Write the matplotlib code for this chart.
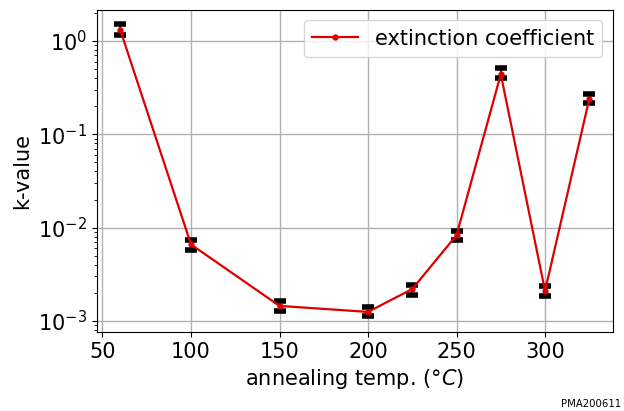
import matplotlib
matplotlib.use("Agg")
import matplotlib.pyplot as plt

# 數據 (讀自圖表)
temps = [60, 100, 150, 200, 225, 250, 275, 300, 325]
k_value = [1.32, 0.0066, 0.00145, 0.00125, 0.0022, 0.0083, 0.44, 0.0021, 0.24]
k_upper = [1.50, 0.0074, 0.00163, 0.00141, 0.00240, 0.0093, 0.51, 0.00236, 0.27]
k_lower = [1.16, 0.0058, 0.00129, 0.00112, 0.00192, 0.0073, 0.40, 0.00184, 0.215]

err_low = [v - lo for v, lo in zip(k_value, k_lower)]
err_high = [hi - v for v, hi in zip(k_value, k_upper)]

fig = plt.figure(figsize=(6.24, 4.11), dpi=100)
ax = fig.add_axes([0.155, 0.192, 0.827, 0.784])

# 誤差棒 (黑色端帽) + 紅色折線
ax.errorbar(temps, k_value, yerr=[err_low, err_high], fmt='none', ecolor='k',
            elinewidth=1.2, capsize=4, capthick=4, zorder=2)
ax.plot(temps, k_value, color='#dd0000', marker='.', markersize=7, linewidth=1.6,
        label='extinction coefficient', zorder=3)
ax.set_yscale('log')
ax.set_ylim(7.6e-4, 2.15)
ax.grid(True, color='#b0b0b0', linewidth=1)
ax.tick_params(labelsize=15)
ax.set_xticks([50, 100, 150, 200, 250, 300])
ax.set_xlabel(r'annealing temp. ($\degree C$)', fontsize=15)
ax.set_ylabel('k-value', fontsize=15)
ax.legend(loc='upper right', fontsize=15, handlelength=2.2)

fig.text(0.995, 0.006, 'PMA200611', fontsize=7.3, ha='right', va='bottom')

fig.savefig('out.png', dpi=100)
